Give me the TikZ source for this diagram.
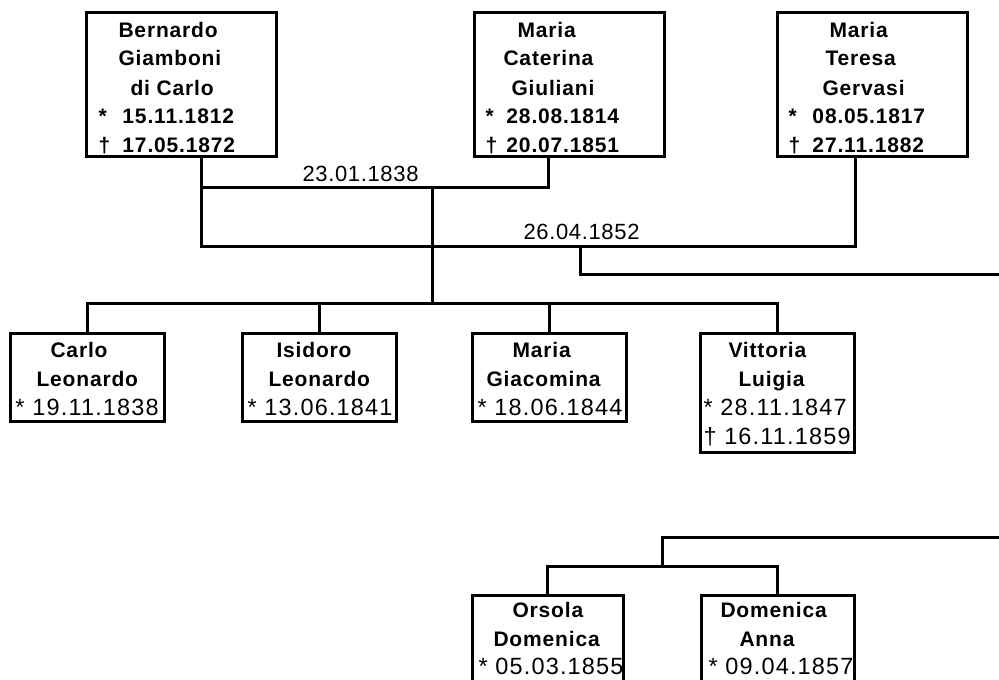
\documentclass[tikz,border=0pt]{standalone}
\usepackage{fontspec}
\setmainfont{Liberation Sans}
\newfontfamily\namefont[LetterSpace=4]{Liberation Sans}
\newfontfamily\datefont[LetterSpace=5]{Liberation Sans}
\newfontfamily\wedfont[LetterSpace=3]{Liberation Sans}
\newcommand{\starmark}[1]{\makebox[24pt][l]{#1}}
\begin{document}
\begin{tikzpicture}[x=1pt, y=-1pt, line width=3pt,
  person/.style={draw, rectangle, anchor=north west, inner sep=0pt, outer sep=0pt},
  topbox/.style={person, minimum width=190pt, minimum height=144pt},
  kidbox/.style={person, minimum width=154pt, minimum height=88pt},
  nm/.style={anchor=base west, inner sep=0pt, font=\namefont\fontsize{21}{22}\selectfont\bfseries},
  dt/.style={anchor=base west, inner sep=0pt, font=\datefont\fontsize{23.5}{25}\selectfont},
  wed/.style={anchor=base west, inner sep=0pt, font=\wedfont\fontsize{22}{24}\selectfont}]
\useasboundingbox (0,0) rectangle (999,680);
\clip (0,0) rectangle (999,680);

% parents
\node[topbox] (p1) at (86,12) {};
\node[nm] (p1a) at (117,37) {Bernardo};
\node[nm] (p1b) at (117,65) {Giamboni};
\node[nm] (p1c) at (129,95) {di Carlo};
\node[nm] (p1d) at (97,123) {\starmark{*}15.11.1812};
\node[nm] (p1e) at (97,152) {\starmark{†}17.05.1872};

\node[topbox] (p2) at (474,12) {};
\node[nm] (p2a) at (516,37) {Maria};
\node[nm] (p2b) at (502,65) {Caterina};
\node[nm] (p2c) at (510,95) {Giuliani};
\node[nm] (p2d) at (484,123) {\makebox[21pt][l]{*}28.08.1814};
\node[nm] (p2e) at (484,152) {\makebox[21pt][l]{†}20.07.1851};

\node[topbox] (p3) at (777,12) {};
\node[nm] (p3a) at (828,37) {Maria};
\node[nm] (p3b) at (824,65) {Teresa};
\node[nm] (p3c) at (821,95) {Gervasi};
\node[nm] (p3d) at (787,123) {\starmark{*}08.05.1817};
\node[nm] (p3e) at (787,152) {\starmark{†}27.11.1882};

% children of the first marriage
\node[kidbox] (c1) at (10,333) {};
\node[nm] (c1a) at (49,357) {Carlo};
\node[nm] (c1b) at (35,386) {Leonardo};
\node[dt] (c1c) at (14,415) {* 19.11.1838};

\node[kidbox] (c2) at (242,333) {};
\node[nm] (c2a) at (275,357) {Isidoro};
\node[nm] (c2b) at (267,386) {Leonardo};
\node[dt] (c2c) at (246,415) {* 13.06.1841};

\node[kidbox] (c3) at (472,333) {};
\node[nm] (c3a) at (511,357) {Maria};
\node[nm] (c3b) at (485,386) {Giacomina};
\node[dt] (c3c) at (476,415) {* 18.06.1844};

\node[kidbox, minimum height=119pt] (c4) at (700,333) {};
\node[nm] (c4a) at (727,357) {Vittoria};
\node[nm] (c4b) at (737,386) {Luigia};
\node[dt] (c4c) at (702,415) {* 28.11.1847};
\node[dt] (c4d) at (702,444) {† 16.11.1859};

% children of the second marriage
\node[kidbox, minimum width=151pt, minimum height=120pt] (d1) at (472,595) {};
\node[nm] (d1a) at (511,617) {Orsola};
\node[nm] (d1b) at (492,646) {Domenica};
\node[dt] (d1c) at (477,674) {* 05.03.1855};

\node[kidbox, minimum width=153pt, minimum height=120pt] (d2) at (701,595) {};
\node[nm] (d2a) at (719,617) {Domenica};
\node[nm] (d2b) at (738,646) {Anna};
\node[dt] (d2c) at (707,674) {* 09.04.1857};

% junction points of the connectors
\coordinate (m1L) at (201,187);
\coordinate (m1R) at (548,187);
\coordinate (m1C) at (432,187);
\coordinate (m2L) at (201,246);
\coordinate (m2R) at (855,246);
\coordinate (m2C) at (580,246);
\coordinate (k1) at (432,303);
\coordinate (e1) at (999,274);
\coordinate (e2) at (999,537);
\coordinate (k2) at (662,566);

% marriage lines
\draw (p1.south -| m1L) -- (m2L) -- (m2R) -- (p3.south -| m2R);
\draw (m1L) -- (m1R) -- (p2.south -| m1R);
\node[wed] (w1) at (301,181) {23.01.1838};
\node[wed] (w2) at (522,239) {26.04.1852};

% descent lines
\draw (m1C) -- (k1);
\draw (m2C) |- (e1);
\draw (c1.north) |- (k1) -| (c4.north);
\draw (c2.north) -- (c2.north |- k1);
\draw (c3.north) -- (c3.north |- k1);
\draw (e2) -| (k2);
\draw (d1.north) |- (k2) -| (d2.north);
\end{tikzpicture}
\end{document}
